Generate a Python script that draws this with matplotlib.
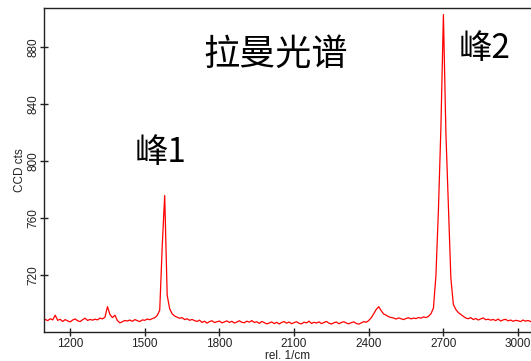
import numpy as np
import matplotlib
matplotlib.use("Agg")
import matplotlib.pyplot as plt

plt.rcParams['font.family'] = ['Liberation Sans', 'DejaVu Sans']

# Raman shift grid (rel. 1/cm), instrument step 10
shift = np.arange(1100, 3051, 10)

# CCD counts
counts = [
    689.0, 688.2, 689.5, 688.7, 692.0, 688.4, 689.1, 687.6, 688.9, 688.0,
    687.3, 688.6, 689.4, 688.1, 687.5, 688.8, 689.9, 688.3, 689.0, 688.5,
    689.2, 688.7, 690.0, 689.4, 690.6, 698.0, 692.5, 690.3, 692.0, 688.2,
    686.6, 687.4, 688.3, 687.9, 688.6, 687.7, 688.9, 688.2, 687.5, 688.7,
    688.4, 689.3, 688.8, 689.6, 690.2, 691.8, 695.5, 740.0, 776.0, 706.0,
    696.5, 693.0, 691.4, 690.6, 689.8, 690.3, 688.9, 689.5, 688.4, 689.0,
    688.2, 687.6, 688.5, 686.9, 687.8, 686.4, 687.5, 688.1, 686.8, 687.4,
    687.9, 686.6, 687.3, 688.0, 686.9, 687.7, 686.5, 687.2, 688.1, 687.0,
    686.7, 687.8, 687.1, 688.2, 686.9, 687.4, 686.2, 687.6, 686.8, 685.9,
    686.5, 687.3, 686.1, 687.0, 685.8, 686.9, 687.5, 686.4, 687.2, 686.0,
    686.8, 687.4, 686.3, 685.9, 687.1, 686.6, 687.8, 686.2, 687.0, 686.5,
    687.3, 686.1, 686.9, 687.6, 686.4, 685.8, 686.7, 687.2, 686.0, 686.9,
    687.4, 686.5, 685.9, 686.8, 687.3, 686.2, 685.7, 686.6, 687.5, 687.0,
    688.3, 690.2, 693.0, 696.0, 698.0, 695.2, 692.8, 692.0, 690.9, 690.4,
    690.0, 689.3, 690.1, 689.5, 688.9, 689.7, 690.2, 689.4, 690.0, 689.6,
    690.4, 689.9, 690.8, 690.3, 691.2, 693.0, 697.0, 720.0, 766.0, 824.0,
    903.0, 820.0, 769.0, 718.0, 699.5, 696.0, 693.8, 692.5, 691.2, 690.0,
    689.5, 690.3, 688.9, 689.7, 688.6, 689.4, 690.1, 688.8, 689.2, 688.5,
    689.0, 688.2, 689.3, 687.9, 688.7, 689.1, 688.0, 688.6, 687.7, 688.4,
    688.1, 687.5, 688.6, 687.8, 688.3, 687.6,
]

xticks = [1200, 1500, 1800, 2100, 2400, 2700, 3000]
yticks = [720, 760, 800, 840, 880]

title_text = "拉曼光谱"
peak_labels = ["峰1", "峰2"]

fig = plt.figure(figsize=(5.31, 3.61), dpi=100)
ax = fig.add_axes([44 / 531, 29 / 361, 487 / 531, 324 / 361])
ax.plot(shift, counts, color='#ff0000', linewidth=0.9)

ax.set_xlim(1095, 3052)
ax.set_ylim(680.2, 907.6)
ax.set_xticks(xticks)
ax.set_yticks(yticks)
ax.spines['right'].set_visible(False)
for s in ['left', 'bottom', 'top']:
    ax.spines[s].set_linewidth(1.0)
    ax.spines[s].set_color('#222222')

ax.tick_params(direction='inout', length=6, width=1.0, colors='#222222',
               labelsize=8.5, pad=1.5)
ax.tick_params(axis='y', labelrotation=90, pad=0.5)
for lab in ax.get_yticklabels():
    lab.set_va('center')

ax.set_xlabel("rel. 1/cm", fontsize=8.5, labelpad=0, color='#222222')
ax.set_ylabel("CCD cts", fontsize=8.5, labelpad=0.5, color='#222222')

cjk = ['Noto Sans CJK SC', 'DejaVu Sans']
ax.text(2028, 874.6, title_text, fontsize=26, family=cjk,
        ha='center', va='center', color='black')
ax.text(1565, 806, peak_labels[0], fontsize=24, family=cjk,
        ha='center', va='center', color='black')
ax.text(2867, 879, peak_labels[1], fontsize=24, family=cjk,
        ha='center', va='center', color='black')

fig.savefig("out.png", dpi=100)
